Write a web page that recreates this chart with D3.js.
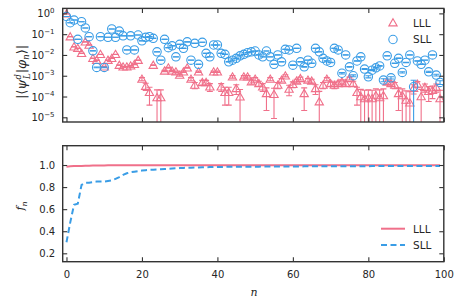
<!DOCTYPE html>
<html>
<head>
<meta charset="utf-8">
<script src="https://cdn.jsdelivr.net/npm/d3@7"></script>
<style>
body { margin: 0; background: #fff; }
text { font-family: "DejaVu Sans", sans-serif; fill: #262626; }
</style>
</head>
<body>
<script>
// n = 0..99
var seriesNames = ['LLL', 'SLL'];
var xTicks = [0, 20, 40, 60, 80, 100];
var logTicks = [0, -1, -2, -3, -4, -5];
var fTicks = [0.2, 0.4, 0.6, 0.8, 1.0];

// log10 |<psi|phi_n>|
var lllExp = [
  -0.02, -1.12, -1.61, -1.68, -1.92, -1.37, -1.52, -2.16, -2.25, -1.97,
  -2.57, -2.25, -2.16, -1.97, -2.49, -2.57, -2.57, -2.52, -2.45, -2.25,
  -3.16, -3.50, -3.80, -2.49, -4.05, -4.05, -2.77, -2.62, -2.77, -2.81,
  -2.97, -2.81, -2.62, -3.16, -3.45, -2.81, -3.32, -3.32, -3.53, -2.81,
  -2.81, -3.53, -3.80, -3.80, -3.05, -3.61, -4.01, -3.05, -3.05, -3.29,
  -3.16, -3.37, -3.53, -3.85, -3.16, -3.89, -3.45, -3.21, -3.00, -3.64,
  -3.41, -3.25, -3.13, -3.85, -3.21, -3.25, -3.61, -4.25, -3.45, -3.16,
  -3.37, -3.45, -3.37, -3.29, -3.37, -3.13, -3.37, -3.80, -4.00, -4.10,
  -4.05, -4.10, -3.95, -4.05, -3.95, -3.30, -3.37, -3.45, -3.85, -3.95,
  -4.17, -4.30, -3.60, -3.40, -4.00, -3.55, -3.75, -3.70, -3.55, -4.10
];
var sllExp = [
  -0.15, -0.45, -0.32, -1.25, -0.40, -0.70, -1.12, -1.80, -2.60, -1.12,
  -2.60, -1.15, -0.75, -1.15, -0.85, -1.08, -1.76, -1.08, -1.76, -1.04,
  -1.32, -1.15, -1.12, -1.20, -1.85, -2.25, -1.25, -1.65, -1.56, -2.09,
  -1.49, -1.68, -1.37, -2.25, -1.44, -2.45, -1.39, -1.92, -2.09, -1.52,
  -1.52, -1.92, -1.97, -2.33, -2.25, -2.16, -2.04, -1.97, -1.89, -1.85,
  -1.81, -2.00, -2.09, -1.81, -2.09, -2.45, -2.00, -2.33, -1.73, -1.76,
  -2.49, -1.68, -2.33, -2.57, -2.25, -2.40, -1.68, -1.85, -2.16, -2.29,
  -2.36, -1.68, -1.76, -2.88, -2.00, -2.57, -3.00, -2.29, -2.09, -2.68,
  -3.05, -2.73, -2.62, -2.53, -3.21, -2.04, -3.10, -2.40, -2.16, -2.84,
  -2.36, -2.00, -3.53, -2.29, -2.45, -2.25, -2.81, -2.00, -2.97, -3.32
];
// absolute error bars (one size per series, one exception)
var lllErr = 1.2e-4;
var sllErr = 1.0e-4;
var sllErrExtra = { 92: 3.1e-4 };

// f_n, lower panel
var lllF = [
  0.985, 0.988, 0.990, 0.991, 0.992, 0.993, 0.994, 0.995, 0.995, 0.996,
  0.996, 0.997, 0.997, 0.997, 0.997, 0.997, 0.997, 0.997, 0.997, 0.997,
  0.998, 0.998, 0.998, 0.998, 0.998, 0.998, 0.998, 0.998, 0.998, 0.998,
  0.998, 0.998, 0.998, 0.998, 0.998, 0.998, 0.998, 0.998, 0.998, 0.998,
  0.999, 0.999, 0.999, 0.999, 0.999, 0.999, 0.999, 0.999, 0.999, 0.999,
  0.999, 0.999, 0.999, 0.999, 0.999, 0.999, 0.999, 0.999, 0.999, 0.999,
  0.999, 0.999, 0.999, 0.999, 0.999, 0.999, 0.999, 0.999, 0.999, 0.999,
  0.999, 0.999, 0.999, 0.999, 0.999, 0.999, 0.999, 0.999, 0.999, 0.999,
  0.999, 0.999, 0.999, 0.999, 0.999, 0.999, 0.999, 0.999, 0.999, 0.999,
  0.999, 0.999, 0.999, 0.999, 0.999, 0.999, 0.999, 0.999, 0.999, 0.999
];
var sllF = [
  0.300, 0.480, 0.640, 0.650, 0.820, 0.840, 0.840, 0.845, 0.850, 0.850,
  0.850, 0.855, 0.860, 0.875, 0.890, 0.910, 0.925, 0.935, 0.940, 0.945,
  0.950, 0.953, 0.956, 0.958, 0.960, 0.962, 0.964, 0.966, 0.968, 0.970,
  0.972, 0.974, 0.975, 0.976, 0.977, 0.978, 0.979, 0.980, 0.981, 0.982,
  0.983, 0.983, 0.983, 0.984, 0.984, 0.984, 0.984, 0.985, 0.985, 0.985,
  0.985, 0.985, 0.986, 0.986, 0.986, 0.986, 0.986, 0.987, 0.987, 0.987,
  0.987, 0.987, 0.987, 0.988, 0.988, 0.988, 0.988, 0.988, 0.988, 0.988,
  0.988, 0.989, 0.989, 0.989, 0.989, 0.989, 0.989, 0.989, 0.989, 0.989,
  0.989, 0.990, 0.990, 0.990, 0.990, 0.990, 0.990, 0.990, 0.990, 0.990,
  0.990, 0.990, 0.990, 0.990, 0.990, 0.990, 0.990, 0.990, 0.990, 0.990
];

var pink = '#f0708a';
var blue = '#3a9de6';
var ink = '#333333';

var W = 463, H = 307;
var L = 62.7, R = 443.8;
var top1 = 8.4, bot1 = 122;
var top2 = 145.7, bot2 = 261.7;

var svg = d3.select('body').append('svg')
  .attr('width', W).attr('height', H);

var x = d3.scaleLinear().domain([-1, 100]).range([L, R]);
var y1 = d3.scaleLog().domain([Math.pow(10, -5.226), Math.pow(10, 0.24)]).range([bot1, top1]);
var y2 = d3.scaleLinear().domain([0.124, 1.175]).range([bot2, top2]);

var defs = svg.append('defs');
defs.append('clipPath').attr('id', 'clip1').append('rect')
  .attr('x', L).attr('y', top1).attr('width', R - L).attr('height', bot1 - top1);
defs.append('clipPath').attr('id', 'clip2').append('rect')
  .attr('x', L).attr('y', top2).attr('width', R - L).attr('height', bot2 - top2);

// ---- upper panel ----
function points(exps, err, extra) {
  return exps.map(function (e, i) {
    var v = Math.pow(10, e);
    var s = (extra && extra[i]) || err;
    return { n: i, v: v, lo: Math.max(v - s, 1e-9), hi: v + s };
  });
}
var lllPts = points(lllExp, lllErr);
var sllPts = points(sllExp, sllErr, sllErrExtra);

var g1 = svg.append('g').attr('clip-path', 'url(#clip1)');

function errorBars(g, pts, color) {
  var eb = g.append('g').attr('stroke', color).attr('stroke-width', 1.1).attr('fill', 'none');
  eb.selectAll('line.v').data(pts).enter().append('line').attr('class', 'v')
    .attr('x1', function (d) { return x(d.n); }).attr('x2', function (d) { return x(d.n); })
    .attr('y1', function (d) { return y1(d.lo); }).attr('y2', function (d) { return y1(d.hi); });
  eb.selectAll('line.lo').data(pts).enter().append('line').attr('class', 'lo')
    .attr('x1', function (d) { return x(d.n) - 3; }).attr('x2', function (d) { return x(d.n) + 3; })
    .attr('y1', function (d) { return y1(d.lo); }).attr('y2', function (d) { return y1(d.lo); });
  eb.selectAll('line.hi').data(pts).enter().append('line').attr('class', 'hi')
    .attr('x1', function (d) { return x(d.n) - 3; }).attr('x2', function (d) { return x(d.n) + 3; })
    .attr('y1', function (d) { return y1(d.hi); }).attr('y2', function (d) { return y1(d.hi); });
}

var tri = d3.symbol().type(d3.symbolTriangle).size(30);

errorBars(g1, lllPts, pink);
g1.append('g').selectAll('path').data(lllPts).enter().append('path')
  .attr('d', tri)
  .attr('transform', function (d) { return 'translate(' + x(d.n) + ',' + (y1(d.v) + 0.8) + ')'; })
  .attr('fill', 'none').attr('stroke', pink).attr('stroke-width', 1.1);

errorBars(g1, sllPts, blue);
g1.append('g').selectAll('circle').data(sllPts).enter().append('circle')
  .attr('cx', function (d) { return x(d.n); })
  .attr('cy', function (d) { return y1(d.v); })
  .attr('r', 4.2)
  .attr('fill', 'none').attr('stroke', blue).attr('stroke-width', 1.1);

// ---- lower panel ----
var g2 = svg.append('g').attr('clip-path', 'url(#clip2)');
var fLine = d3.line()
  .x(function (d, i) { return x(i); })
  .y(function (d) { return y2(d); });

g2.append('path').datum(lllF).attr('d', fLine)
  .attr('fill', 'none').attr('stroke', pink).attr('stroke-width', 2);
g2.append('path').datum(sllF).attr('d', fLine)
  .attr('fill', 'none').attr('stroke', blue).attr('stroke-width', 2)
  .attr('stroke-dasharray', '6,3.5');

// ---- axes (inward ticks on all four sides) ----
function styleAxis(sel) {
  sel.select('.domain').remove();
  sel.selectAll('.tick line').attr('stroke', ink).attr('stroke-width', 1.1);
  sel.selectAll('.tick text').attr('fill', '#262626').style('font-size', '10px')
    .style('font-family', '"DejaVu Sans", sans-serif');
}

function frame(top, bot) {
  svg.append('rect').attr('x', L).attr('y', top).attr('width', R - L).attr('height', bot - top)
    .attr('fill', 'none').attr('stroke', ink).attr('stroke-width', 1.4);
}

// upper
svg.append('g').attr('transform', 'translate(0,' + bot1 + ')')
  .call(d3.axisBottom(x).tickValues(xTicks).tickSize(-4.5).tickFormat('')).call(styleAxis);
svg.append('g').attr('transform', 'translate(0,' + top1 + ')')
  .call(d3.axisTop(x).tickValues(xTicks).tickSize(-4.5).tickFormat('')).call(styleAxis);
var logVals = logTicks.map(function (e) { return Math.pow(10, e); });
svg.append('g').attr('transform', 'translate(' + L + ',0)')
  .call(d3.axisLeft(y1).tickValues(logVals).tickSize(-4.5).tickFormat('')).call(styleAxis);
svg.append('g').attr('transform', 'translate(' + R + ',0)')
  .call(d3.axisRight(y1).tickValues(logVals).tickSize(-4.5).tickFormat('')).call(styleAxis);
frame(top1, bot1);

var logLab = svg.append('g').selectAll('text').data(logTicks).enter().append('text')
  .attr('x', 54.5)
  .attr('y', function (e) { return y1(Math.pow(10, e)) + 4; })
  .attr('text-anchor', 'end')
  .style('font-size', '10px');
logLab.append('tspan').text('10');
logLab.append('tspan').attr('dy', -4.5).style('font-size', '7px')
  .text(function (e) { return e === 0 ? '0' : '\u2212' + (-e); });

// lower
svg.append('g').attr('transform', 'translate(0,' + bot2 + ')')
  .call(d3.axisBottom(x).tickValues(xTicks).tickSize(-4.5).tickPadding(9)).call(styleAxis);
svg.append('g').attr('transform', 'translate(0,' + top2 + ')')
  .call(d3.axisTop(x).tickValues(xTicks).tickSize(-4.5).tickFormat('')).call(styleAxis);
svg.append('g').attr('transform', 'translate(' + L + ',0)')
  .call(d3.axisLeft(y2).tickValues(fTicks).tickSize(-4.5).tickPadding(7.5).tickFormat(d3.format('.1f'))).call(styleAxis);
svg.append('g').attr('transform', 'translate(' + R + ',0)')
  .call(d3.axisRight(y2).tickValues(fTicks).tickSize(-4.5).tickFormat('')).call(styleAxis);
frame(top2, bot2);

// ---- axis labels ----
var serifIt = '"DejaVu Serif", serif';
svg.append('text').attr('x', 254).attr('y', 296).attr('text-anchor', 'middle')
  .style('font-family', serifIt).style('font-style', 'italic').style('font-size', '11px').text('n');

var fl = svg.append('text').attr('transform', 'translate(24,206) rotate(-90)')
  .attr('text-anchor', 'middle').style('font-family', serifIt).style('font-style', 'italic')
  .style('font-size', '11px');
fl.append('tspan').text('f');
fl.append('tspan').attr('dy', 2.5).style('font-size', '8px').text('n');

var yl = svg.append('text').attr('transform', 'translate(26,72) rotate(-90)')
  .attr('text-anchor', 'middle').style('font-size', '13px');
yl.append('tspan').text('|\u27e8');
yl.append('tspan').style('font-family', serifIt).style('font-style', 'italic').text('\u03c8');
yl.append('tspan').attr('dy', -5).style('font-size', '8.5px').style('font-family', serifIt).style('font-style', 'italic').text('d');
yl.append('tspan').attr('dx', -5).attr('dy', 9).style('font-size', '8.5px').style('font-family', serifIt).style('font-style', 'italic').text('L');
yl.append('tspan').attr('dy', -4).text('|');
yl.append('tspan').style('font-family', serifIt).style('font-style', 'italic').text('\u03c6');
yl.append('tspan').attr('dy', 3).style('font-size', '8.5px').style('font-family', serifIt).style('font-style', 'italic').text('n');
yl.append('tspan').attr('dy', -3).text('\u27e9|');

// ---- legends ----
var leg1 = svg.append('g');
leg1.append('path').attr('d', tri).attr('transform', 'translate(393,23.5)')
  .attr('fill', 'none').attr('stroke', pink).attr('stroke-width', 1.1);
leg1.append('circle').attr('cx', 393).attr('cy', 39.5).attr('r', 4.2)
  .attr('fill', 'none').attr('stroke', blue).attr('stroke-width', 1.1);
leg1.selectAll('text').data(seriesNames).enter().append('text')
  .attr('x', 413).attr('y', function (d, i) { return 27 + 16 * i; })
  .style('font-size', '10.5px').text(function (d) { return d; });

var leg2 = svg.append('g');
leg2.append('line').attr('x1', 381).attr('x2', 405).attr('y1', 228.7).attr('y2', 228.7)
  .attr('stroke', pink).attr('stroke-width', 2);
leg2.append('line').attr('x1', 381).attr('x2', 405).attr('y1', 245).attr('y2', 245)
  .attr('stroke', blue).attr('stroke-width', 2).attr('stroke-dasharray', '6,3.5');
leg2.selectAll('text').data(seriesNames).enter().append('text')
  .attr('x', 413).attr('y', function (d, i) { return 232.5 + 16.3 * i; })
  .style('font-size', '10.5px').text(function (d) { return d; });
</script>
</body>
</html>
